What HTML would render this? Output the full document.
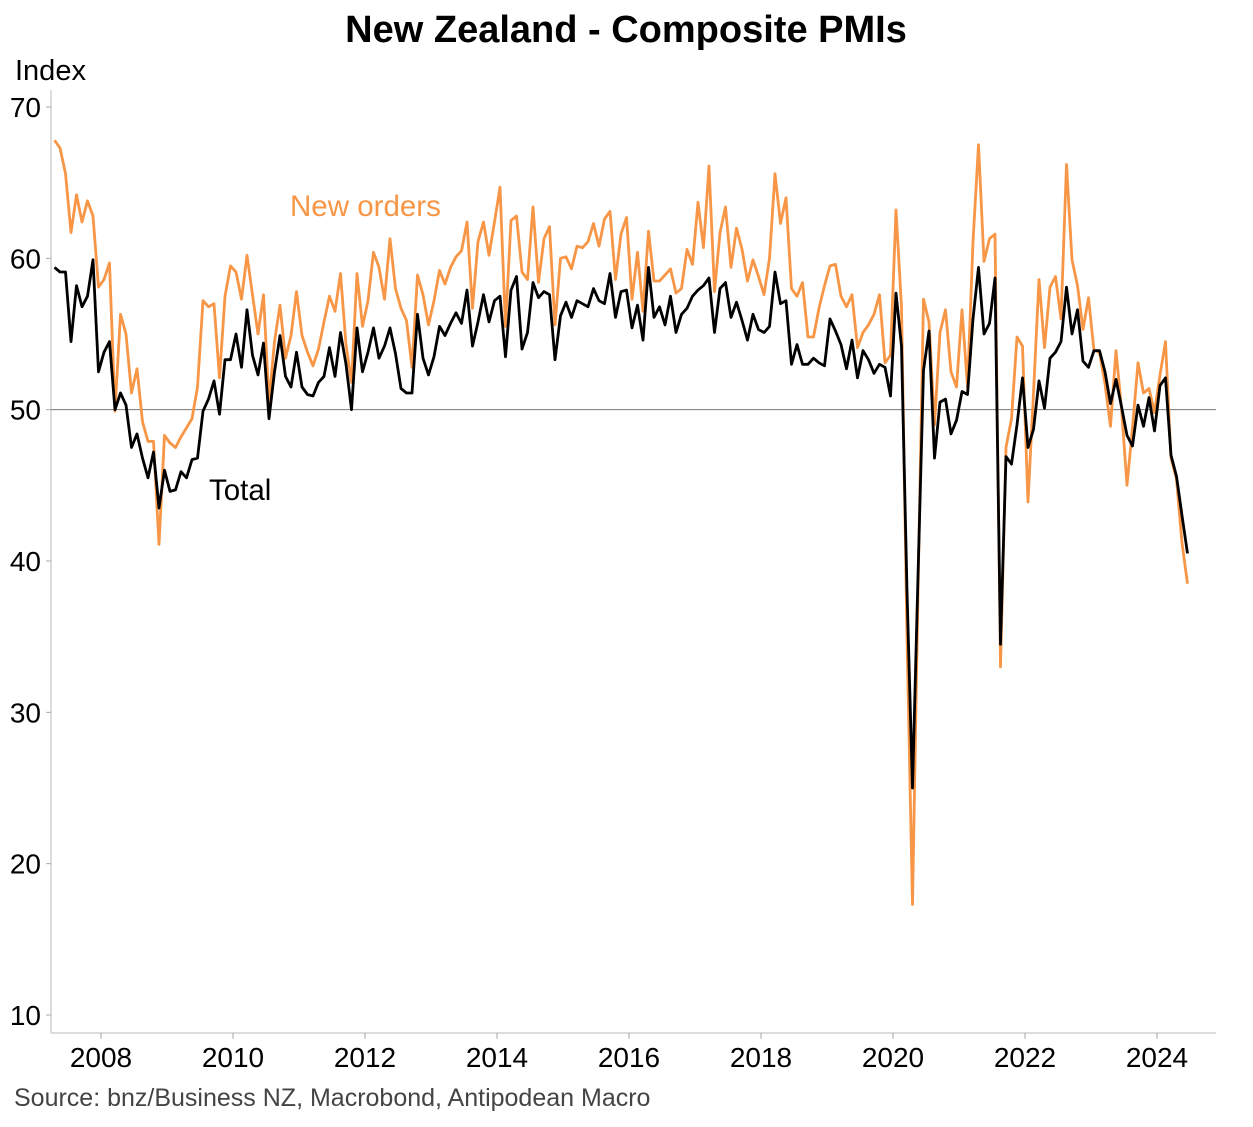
<!DOCTYPE html>
<html><head><meta charset="utf-8"><style>
body{margin:0;background:#fff;width:1253px;height:1122px;overflow:hidden;font-family:"Liberation Sans",Arial,sans-serif}
svg text{font-family:"Liberation Sans",Arial,sans-serif}
</style></head><body>
<svg id="chart" width="1253" height="1122">
<text x="626" y="42" text-anchor="middle" font-size="38" font-weight="bold">New Zealand - Composite PMIs</text>
<text x="15" y="80" font-size="29">Index</text>
<text x="14" y="1106" font-size="25" fill="#444">Source: bnz/Business NZ, Macrobond, Antipodean Macro</text>
<g id="axes"></g>
<g id="series"></g>
<text x="290" y="216" font-size="29.5" fill="#f79646">New orders</text>
<text x="209" y="500" font-size="29.5" fill="#000">Total</text>
</svg>
<script>
const startYear = 2007, startMonth = 3; // April 2007
const yTicks = [10,20,30,40,50,60,70];
const xTickYears = [2008,2010,2012,2014,2016,2018,2020,2022,2024];
const totalValues = [
59.4,59.1,59.1,54.5,58.2,56.8,57.5,59.9,52.5,
53.8,54.5,50.0,51.1,50.3,47.5,48.4,46.8,45.5,47.2,43.5,46.0,
44.6,44.7,45.9,45.5,46.7,46.8,49.9,50.7,51.9,49.7,53.3,53.3,
55.0,52.8,56.6,53.6,52.3,54.4,49.4,52.5,54.9,52.2,51.5,53.8,
51.5,51.0,50.9,51.8,52.2,54.1,52.2,55.1,53.0,50.0,55.4,52.5,
53.8,55.4,53.4,54.2,55.4,53.7,51.4,51.1,51.1,56.3,53.4,52.3,
53.5,55.5,54.9,55.7,56.4,55.7,57.9,54.2,55.8,57.6,55.8,57.2,
57.5,53.5,57.9,58.8,54.0,55.1,58.4,57.4,57.8,57.6,53.3,56.2,
57.1,56.1,57.2,57.0,56.8,58.0,57.2,57.0,59.0,56.1,57.8,57.9,
55.4,56.9,54.6,59.4,56.1,56.8,55.6,57.5,55.1,56.3,56.7,57.5,
57.9,58.2,58.7,55.1,58.0,58.4,56.1,57.1,55.9,54.6,56.3,55.3,
55.1,55.5,59.1,57.0,57.2,53.0,54.3,53.0,53.0,53.4,53.1,52.9,
56.0,55.2,54.3,52.7,54.6,52.1,53.9,53.3,52.4,53.0,52.8,50.9,
57.7,54.2,38.0,25.0,39.0,52.6,55.2,46.8,50.5,50.7,48.4,49.3,
51.2,51.0,56.0,59.4,55.0,55.7,58.7,34.5,46.9,46.4,49.0,52.1,
47.5,48.7,51.9,50.1,53.4,53.8,54.5,58.1,55.0,56.6,53.2,52.8,
53.9,53.9,52.5,50.4,52.0,50.2,48.3,47.6,50.3,48.9,50.8,48.6,
51.6,52.1,47.0,45.6,43.0,40.5];
const newOrdersValues = [
67.8,67.3,65.6,61.7,64.2,62.4,63.8,62.8,58.1,
58.6,59.7,49.9,56.3,55.0,51.1,52.7,49.2,47.9,47.9,41.1,48.3,
47.8,47.5,48.2,48.8,49.4,51.5,57.2,56.8,57.0,52.1,57.5,59.5,
59.1,57.3,60.2,57.6,55.0,57.6,50.5,54.5,56.9,53.4,54.9,57.8,
54.9,53.8,52.9,54.0,55.8,57.5,56.5,59.0,54.3,51.8,59.0,55.5,
57.2,60.4,59.4,57.3,61.3,58.0,56.7,55.9,52.8,58.9,57.6,55.6,
57.2,59.2,58.3,59.4,60.1,60.5,62.4,56.7,61.1,62.4,60.2,62.4,
64.7,55.5,62.5,62.8,59.1,58.6,63.4,58.4,61.3,62.1,55.6,60.0,
60.1,59.3,60.8,60.7,61.1,62.3,60.8,62.6,63.1,58.6,61.6,62.7,
57.3,60.4,56.5,61.8,58.5,58.5,58.9,59.3,57.7,58.0,60.6,59.6,
63.7,60.7,66.1,57.8,61.7,63.4,59.4,62.0,60.6,58.5,59.9,58.8,
57.6,60.0,65.6,62.3,64.0,58.0,57.5,58.4,54.8,54.8,56.7,58.2,
59.5,59.6,57.5,56.8,57.6,54.1,55.1,55.6,56.3,57.6,53.1,53.6,
63.2,56.8,35.0,17.3,38.0,57.3,55.8,49.0,55.1,56.6,52.5,51.5,
56.6,51.5,61.1,67.5,59.8,61.3,61.6,33.0,47.5,49.4,54.8,54.2,
43.9,51.1,58.6,54.1,58.1,58.8,56.0,66.2,59.9,58.2,55.3,57.4,
53.9,53.8,51.7,48.9,53.9,50.1,45.0,48.8,53.1,51.1,51.4,49.8,
52.3,54.5,46.8,45.4,41.2,38.5];

const NS="http://www.w3.org/2000/svg";
const PL=51,PR=1216,PB=1033,PT=90;
function yScale(v){return 1015-(v-10)*(1015-107)/60;}
function xScale(yearFrac){return 101+(yearFrac-2008)*66;}
function monthX(i){return xScale(startYear+(startMonth+i)/12)+3;}
function mk(tag,attrs,parent){const e=document.createElementNS(NS,tag);for(const k in attrs)e.setAttribute(k,attrs[k]);parent.appendChild(e);return e;}
const axes=document.getElementById('axes');
let l=mk('line',{x1:PL,y1:PT,x2:PL,y2:PB,stroke:'#d0d0d0','stroke-width':1.5},axes);


l=mk('line',{x1:PL,y1:PB,x2:PR,y2:PB,stroke:'#d0d0d0','stroke-width':1.5},axes);


l=mk('line',{x1:PL,y1:yScale(50),x2:PR,y2:yScale(50),stroke:'#777','stroke-width':1},axes);


yTicks.forEach(v=>{
  const y=yScale(v);
  const t=mk('line',{x1:PL-5,y1:y,x2:PL,y2:y,stroke:'#aaa','stroke-width':1},axes);
  
  
  const tx=mk('text',{x:41,y:y+10,'text-anchor':'end','font-size':28},axes);
  tx.textContent=v;
  
  
});
xTickYears.forEach(yr=>{
  const x=xScale(yr);
  const t=mk('line',{x1:x,y1:PB,x2:x,y2:PB+6,stroke:'#aaa','stroke-width':1},axes);
  
  
  const tx=mk('text',{x:x,y:1067,'text-anchor':'middle','font-size':28},axes);
  tx.textContent=yr;
  
  
});
const series=document.getElementById('series');
function pathD(vals){return vals.map((v,i)=>(i?'L':'M')+monthX(i).toFixed(1)+','+yScale(v).toFixed(1)).join(' ');}
let p=mk('path',{d:pathD(newOrdersValues),fill:'none',stroke:'#f79646','stroke-width':2.8,'stroke-linejoin':'round'},series);


p=mk('path',{d:pathD(totalValues),fill:'none',stroke:'#000','stroke-width':2.8,'stroke-linejoin':'round'},series);


</script>
</body></html>
